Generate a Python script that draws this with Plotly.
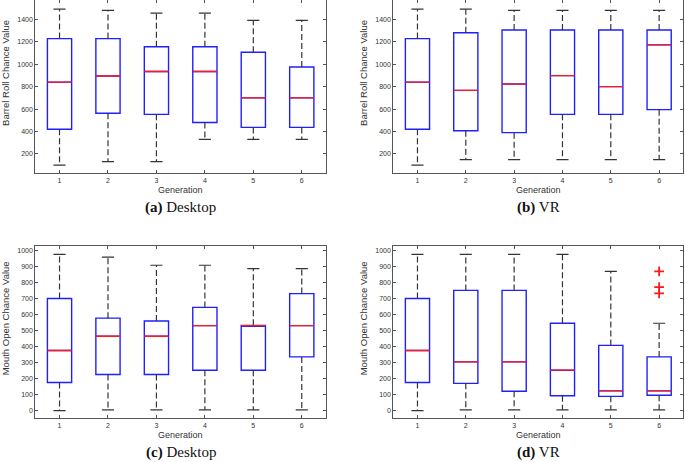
import plotly.graph_objects as go

generations = [1, 2, 3, 4, 5, 6]
tick_labels = ["1", "2", "3", "4", "5", "6"]

# (a) Desktop - Barrel Roll
a_low = [100, 132, 132, 330, 330, 330]
a_q1 = [420, 563, 553, 480, 437, 437]
a_med = [840, 895, 935, 935, 700, 700]
a_q3 = [1228, 1228, 1155, 1155, 1106, 975]
a_high = [1490, 1480, 1455, 1455, 1390, 1390]

# (b) VR - Barrel Roll
b_low = [100, 150, 150, 150, 150, 150]
b_q1 = [420, 407, 390, 553, 553, 595]
b_med = [840, 767, 823, 898, 800, 1172]
b_q3 = [1228, 1280, 1305, 1305, 1305, 1305]
b_high = [1490, 1490, 1480, 1480, 1480, 1480]

# (c) Desktop - Mouth Open
c_low = [0, 5, 5, 5, 5, 5]
c_q1 = [175, 225, 225, 252, 252, 335]
c_med = [375, 464, 464, 530, 530, 530]
c_q3 = [700, 577, 559, 644, 532, 730]
c_high = [975, 958, 907, 907, 886, 886]

# (d) VR - Mouth Open
d_low = [0, 5, 5, 5, 5, 5]
d_q1 = [175, 170, 121, 93, 89, 96]
d_med = [375, 304, 304, 252, 123, 123]
d_q3 = [700, 750, 750, 545, 407, 335]
d_high = [975, 975, 975, 975, 869, 545]
d_out_x = [6, 6, 6]
d_out_y = [732, 771, 869]

captions = ["<b>(a)</b> Desktop", "<b>(b)</b> VR", "<b>(c)</b> Desktop", "<b>(d)</b> VR"]
y_titles = ["Barrel Roll Chance Value", "Barrel Roll Chance Value",
            "Mouth Open Chance Value", "Mouth Open Chance Value"]
x_title = "Generation"

W, H = 685, 462
BOX_W = 0.5
CAP_W = 0.25
BLUE = "#1f1fff"
RED = "#ff1a1a"
WHISK = "#333333"

panels = [
    dict(low=a_low, q1=a_q1, med=a_med, q3=a_q3, high=a_high,
         px=(35.3, 326.0), py=(0.0, 173.3), yr=(28, 1572),
         yt=[200, 400, 600, 800, 1000, 1200, 1400]),
    dict(low=b_low, q1=b_q1, med=b_med, q3=b_q3, high=b_high,
         px=(393.3, 683.3), py=(0.0, 173.3), yr=(28, 1572),
         yt=[200, 400, 600, 800, 1000, 1200, 1400]),
    dict(low=c_low, q1=c_q1, med=c_med, q3=c_q3, high=c_high,
         px=(35.3, 326.0), py=(245.7, 418.3), yr=(-48, 1029),
         yt=[0, 100, 200, 300, 400, 500, 600, 700, 800, 900, 1000]),
    dict(low=d_low, q1=d_q1, med=d_med, q3=d_q3, high=d_high,
         px=(393.3, 683.3), py=(245.7, 418.3), yr=(-48, 1029),
         yt=[0, 100, 200, 300, 400, 500, 600, 700, 800, 900, 1000]),
]

fig = go.Figure()
layout = dict(width=W, height=H, margin=dict(l=0, r=0, t=0, b=0),
              paper_bgcolor="white", plot_bgcolor="white", showlegend=False,
              font=dict(family="Liberation Sans, Arial, sans-serif", color="#333333"))
annotations = []

for k, p in enumerate(panels):
    n = "" if k == 0 else str(k + 1)
    xa, ya = "x" + n, "y" + n
    # boxes
    fig.add_trace(go.Box(
        x=generations, q1=p["q1"], median=p["med"], q3=p["q3"],
        lowerfence=p["q1"], upperfence=p["q3"], width=BOX_W,
        line=dict(color=BLUE, width=1.4), fillcolor="rgba(0,0,0,0)",
        boxpoints=False, hoverinfo="skip", xaxis=xa, yaxis=ya))
    # whiskers
    wx, wy = [], []
    for g, lo, q1, q3, hi in zip(generations, p["low"], p["q1"], p["q3"], p["high"]):
        wx += [g, g, None, g, g, None]
        wy += [q3, hi, None, q1, lo, None]
    fig.add_trace(go.Scatter(x=wx, y=wy, mode="lines",
                             line=dict(color=WHISK, width=1.2, dash="6px,3px"),
                             hoverinfo="skip", xaxis=xa, yaxis=ya))
    # caps
    cx, cy = [], []
    for g, lo, hi in zip(generations, p["low"], p["high"]):
        cx += [g - CAP_W / 2, g + CAP_W / 2, None, g - CAP_W / 2, g + CAP_W / 2, None]
        cy += [hi, hi, None, lo, lo, None]
    fig.add_trace(go.Scatter(x=cx, y=cy, mode="lines",
                             line=dict(color=WHISK, width=1.2),
                             hoverinfo="skip", xaxis=xa, yaxis=ya))
    # medians
    mx, my = [], []
    for g, m in zip(generations, p["med"]):
        mx += [g - BOX_W / 2, g + BOX_W / 2, None]
        my += [m, m, None]
    fig.add_trace(go.Scatter(x=mx, y=my, mode="lines",
                             line=dict(color=RED, width=1.3),
                             hoverinfo="skip", xaxis=xa, yaxis=ya))
    if k == 3:
        fig.add_trace(go.Scatter(x=d_out_x, y=d_out_y, mode="markers",
                                 marker=dict(symbol="cross-thin-open", size=7,
                                             color=RED,
                                             line=dict(color=RED, width=1.8)),
                                 hoverinfo="skip", xaxis=xa, yaxis=ya))

    x0, x1 = p["px"]
    y0, y1 = p["py"]
    dom_x = [x0 / W, x1 / W]
    dom_y = [1 - y1 / H, 1 - y0 / H]
    axis_common = dict(showline=True, linecolor="#555555", linewidth=1, mirror="ticks",
                       ticks="inside", ticklen=3, tickcolor="#555555", showgrid=False,
                       zeroline=False, tickfont=dict(size=7, color="#333333"))
    layout["xaxis" + n] = dict(domain=dom_x, range=[0.5, 6.5], tickvals=generations,
                               ticktext=tick_labels, anchor=ya, **axis_common)
    layout["yaxis" + n] = dict(domain=dom_y, range=list(p["yr"]), tickvals=p["yt"],
                               anchor=xa, **axis_common)
    # axis titles
    annotations.append(dict(text=x_title, x=(x0 + x1) / 2 / W, y=1 - (y1 + 17) / H,
                            xref="paper", yref="paper", showarrow=False,
                            xanchor="center", yanchor="middle",
                            font=dict(size=9, color="#333333")))
    annotations.append(dict(text=y_titles[k], x=(x0 - 30) / W, y=1 - ((y0 + y1) / 2 - 14) / H,
                            xref="paper", yref="paper", showarrow=False, textangle=-90,
                            xanchor="center", yanchor="middle",
                            font=dict(size=9.5, color="#333333")))
    annotations.append(dict(text=captions[k], x=(x0 + x1) / 2 / W, y=1 - (y1 + 34) / H,
                            xref="paper", yref="paper", showarrow=False,
                            xanchor="center", yanchor="middle",
                            font=dict(size=15, color="#111111",
                                      family="Liberation Serif, Times New Roman, serif")))

layout["annotations"] = annotations
fig.update_layout(**layout)
fig.write_html("out.html", config={"displayModeBar": False},
               post_script="document.body.style.margin='0px';")
